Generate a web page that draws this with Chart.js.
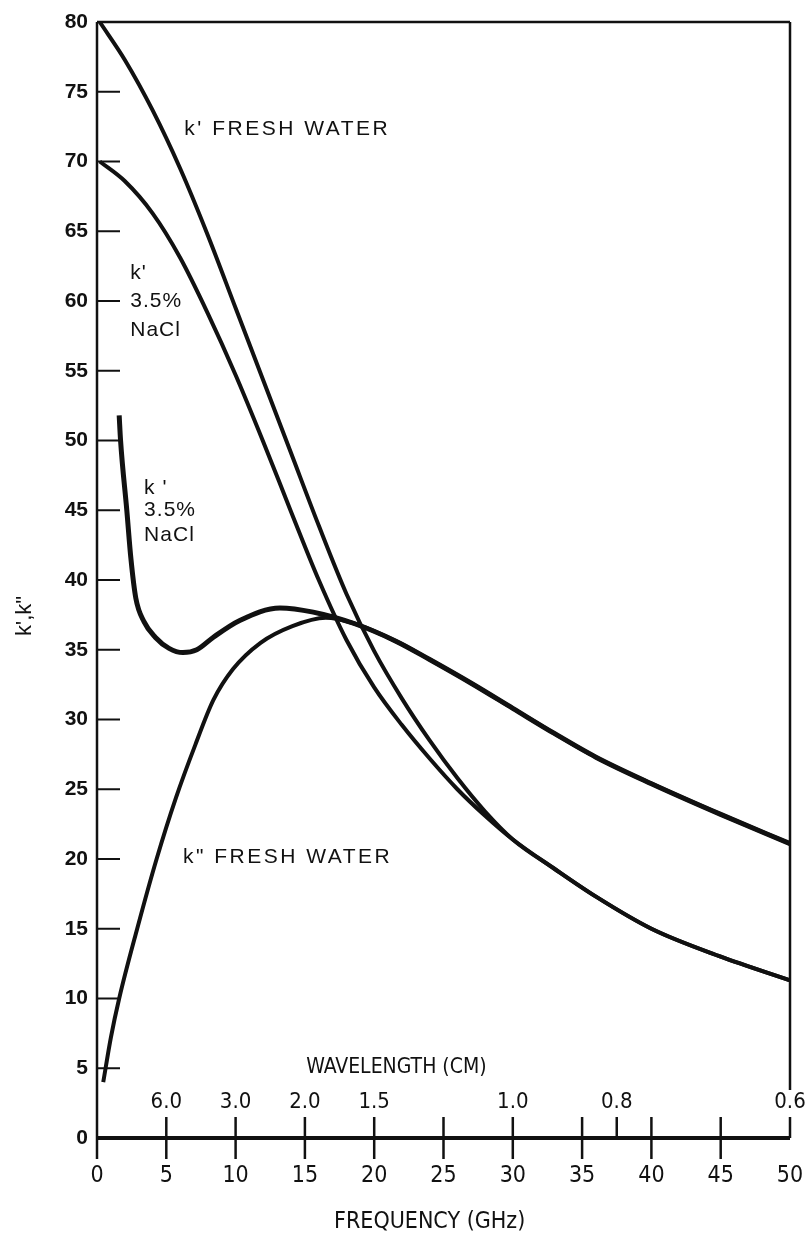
<!DOCTYPE html>
<html>
<head>
<meta charset="utf-8">
<script src="https://cdn.jsdelivr.net/npm/chart.js@4.4.1/dist/chart.umd.min.js"></script>
<style>
  html, body { margin: 0; padding: 0; background: #fff; }
  #wrap { width: 809px; height: 1237px; position: relative; }
</style>
</head>
<body>
<div id="wrap"><canvas id="myChart"></canvas></div>
<script>
// k' fresh water
const freshRealFreq = [0.2, 2, 4, 6, 8, 10, 12, 14, 16, 18, 20, 22, 24, 26, 28, 30, 33, 36, 40, 45, 50];
const freshRealVal  = [80, 77.3, 73.7, 69.5, 64.7, 59.5, 54.3, 49.1, 43.9, 39.0, 34.9, 31.5, 28.5, 25.8, 23.4, 21.4, 19.3, 17.3, 15.0, 13.0, 11.3];

// k' 3.5% NaCl
const saltRealFreq = [0.2, 2, 4, 6, 8, 10, 12, 14, 16, 18, 20, 22, 24, 26, 28, 30, 33, 36, 40, 45, 50];
const saltRealVal  = [70, 68.6, 66.3, 63.1, 59.1, 54.7, 49.9, 44.9, 40.0, 35.7, 32.3, 29.6, 27.2, 25.0, 23.1, 21.4, 19.3, 17.3, 15.0, 13.0, 11.3];

// k'' fresh water
const freshImagFreq = [0.45, 1.0, 1.6, 2.9, 4.3, 5.7, 7.1, 8.4, 9.8, 11.8, 14.1, 16.5, 18.5, 21.6, 24, 27, 30, 33, 36, 40, 45, 50];
const freshImagVal  = [4, 7.2, 10, 15, 20, 24.4, 28.2, 31.4, 33.6, 35.5, 36.7, 37.3, 36.9, 35.6, 34.3, 32.6, 30.8, 29.0, 27.3, 25.4, 23.2, 21.1];

// k'' 3.5% NaCl
const saltImagFreq = [1.6, 1.7, 2.15, 2.45, 2.8, 3.4, 4.2, 5.2, 6.2, 7.2, 8.4, 10.3, 13.2, 15.6, 18.5, 21.6, 24, 27, 30, 33, 36, 40, 45, 50];
const saltImagVal  = [51.8, 50, 45, 41.5, 38.7, 37.0, 35.9, 35.1, 34.8, 35.0, 35.9, 37.1, 38.0, 37.7, 36.9, 35.6, 34.3, 32.6, 30.8, 29.0, 27.3, 25.4, 23.2, 21.1];

// wavelength (cm) scale along the frequency axis
const waveFreq   = [5, 10, 15, 20, 30, 37.5, 50];
const waveLabels = ['6.0', '3.0', '2.0', '1.5', '1.0', '0.8', '0.6'];
const topTicks    = [5, 10, 15, 20, 25, 30, 35, 37.5, 40, 45, 50];
const bottomTicks = [0, 5, 10, 15, 20, 25, 30, 35, 40, 45];

const ink = '#111';
const narrow = "'Liberation Sans Narrow', 'DejaVu Sans Condensed', 'Arial Narrow', sans-serif";
const plain = "'Liberation Sans', Arial, sans-serif";

function pts(xs, ys) {
  return xs.map((x, i) => ({x: x, y: ys[i]}));
}

function curve(label, xs, ys, w) {
  return {
    label: label,
    data: pts(xs, ys),
    showLine: true,
    borderColor: ink,
    borderWidth: w,
    pointRadius: 0,
    cubicInterpolationMode: 'monotone',
    fill: false,
    clip: 4
  };
}

// axes, frame, wavelength scale and the labels on the plot
const decor = {
  id: 'decor',
  afterDraw(chart) {
    const ctx = chart.ctx;
    const xs = chart.scales.x, ys = chart.scales.y;
    const a = chart.chartArea;
    const X = v => xs.getPixelForValue(v);
    const Y = v => ys.getPixelForValue(v);

    ctx.save();
    ctx.strokeStyle = ink;
    ctx.lineCap = 'butt';

    function line(x1, y1, x2, y2, w) {
      ctx.lineWidth = w;
      ctx.beginPath();
      ctx.moveTo(x1, y1);
      ctx.lineTo(x2, y2);
      ctx.stroke();
    }

    // frame
    line(a.left, a.top, a.left, a.bottom, 2.5);
    line(a.left, a.top, a.right, a.top, 2.5);
    line(a.right, a.top, a.right, a.bottom - 48, 2.5);
    line(a.left, a.bottom, a.right, a.bottom, 4);

    // inner y ticks
    for (let v = 5; v < 80; v += 5) line(a.left, Y(v), a.left + 23, Y(v), 2);

    // x ticks
    topTicks.forEach(f => line(X(f), a.bottom - 21, X(f), a.bottom, 2.5));
    bottomTicks.forEach(f => line(X(f), a.bottom, X(f), a.bottom + 21, 2.5));

    ctx.fillStyle = ink;
    ctx.textBaseline = 'middle';

    // wavelength labels
    ctx.font = '22px ' + narrow;
    ctx.textAlign = 'center';
    waveFreq.forEach((f, i) => ctx.fillText(waveLabels[i], X(f), a.bottom - 36));
    ctx.font = '21px ' + narrow;
    ctx.fillText('WAVELENGTH (CM)', X(21.6), a.bottom - 70);
    ctx.font = '23px ' + narrow;
    ctx.fillText('FREQUENCY (GHz)', X(24.0), a.bottom + 84);

    // y title
    ctx.save();
    ctx.translate(25, 616);
    ctx.rotate(-Math.PI / 2);
    ctx.font = '22px ' + plain;
    ctx.fillText("k',k\"", 0, 0);
    ctx.restore();

    // curve labels
    ctx.textAlign = 'left';
    ctx.font = '21px ' + plain;
    ctx.letterSpacing = '2.5px';
    ctx.fillText("k' FRESH WATER", X(6.3), Y(72.3));
    ctx.fillText('k" FRESH WATER', X(6.2), Y(20.1));
    ctx.letterSpacing = '1px';
    ctx.fillText("k'", X(2.4), Y(62.0));
    ctx.fillText('3.5%', X(2.4), Y(60.0));
    ctx.fillText('NaCl', X(2.4), Y(57.9));
    ctx.fillText("k '", X(3.4), Y(46.6));
    ctx.fillText('3.5%', X(3.4), Y(45.0));
    ctx.fillText('NaCl', X(3.4), Y(43.2));
    ctx.restore();
  }
};

const config = {
  type: 'scatter',
  data: {
    datasets: [
      curve("k' fresh water", freshRealFreq, freshRealVal, 4),
      curve("k' 3.5% NaCl", saltRealFreq, saltRealVal, 4),
      curve("k'' fresh water", freshImagFreq, freshImagVal, 4),
      curve("k'' 3.5% NaCl", saltImagFreq, saltImagVal, 5)
    ]
  },
  options: {
    responsive: true,
    maintainAspectRatio: false,
    animation: false,
    devicePixelRatio: 1,
    layout: { padding: { top: 22, right: 19, left: 0, bottom: 0 } },
    plugins: {
      legend: { display: false },
      tooltip: { enabled: false }
    },
    scales: {
      x: {
        type: 'linear',
        min: 0,
        max: 50,
        grid: { display: false, drawTicks: false },
        border: { display: false },
        ticks: {
          stepSize: 5,
          autoSkip: false,
          maxRotation: 0,
          padding: 24,
          color: ink,
          font: { family: narrow, size: 23 }
        },
        afterFit(s) { s.height = 99; s.paddingLeft = 0; s.paddingRight = 0; }
      },
      y: {
        type: 'linear',
        min: 0,
        max: 80,
        grid: { display: false, drawTicks: false },
        border: { display: false },
        ticks: {
          stepSize: 5,
          padding: 9,
          color: ink,
          font: { family: plain, size: 21, weight: 'bold' }
        },
        afterFit(s) { s.width = 97; s.paddingTop = 0; s.paddingBottom = 0; }
      }
    }
  },
  plugins: [decor]
};

const myChart = new Chart(document.getElementById('myChart'), config);
</script>
</body>
</html>
